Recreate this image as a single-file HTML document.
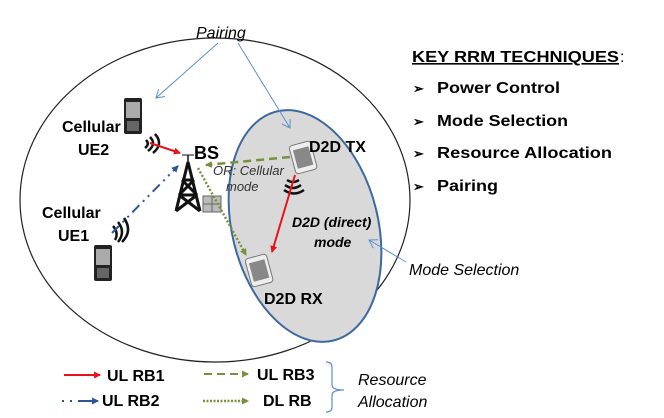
<!DOCTYPE html>
<html><head><meta charset="utf-8"><style>
html,body{margin:0;padding:0;background:#fff}
svg{display:block}
text{font-family:"Liberation Sans",Arial,sans-serif}
.b{font-weight:bold}
.i{font-style:italic}
</style></head><body>
<svg width="664" height="418" viewBox="0 0 664 418" xmlns="http://www.w3.org/2000/svg">
<defs>
<marker id="ar" markerWidth="8" markerHeight="8" refX="6" refY="4" orient="auto" markerUnits="userSpaceOnUse"><path d="M0,0.5 L7,4 L0,7.5z" fill="#e8121a"/></marker>
<marker id="ab" markerWidth="8" markerHeight="8" refX="6" refY="4" orient="auto" markerUnits="userSpaceOnUse"><path d="M0,0.5 L7,4 L0,7.5z" fill="#2f5596"/></marker>
<marker id="ag" markerWidth="8" markerHeight="8" refX="6" refY="4" orient="auto" markerUnits="userSpaceOnUse"><path d="M0,0.5 L7,4 L0,7.5z" fill="#76923c"/></marker>
<marker id="al" markerWidth="10" markerHeight="10" refX="8" refY="5" orient="auto" markerUnits="userSpaceOnUse"><path d="M0,0 L8,5 L0,10" fill="none" stroke="#5b8fd0" stroke-width="1"/></marker>
</defs>
<ellipse cx="215" cy="200" rx="195" ry="162" fill="none" stroke="#222" stroke-width="1.2"/>
<ellipse cx="305" cy="226" rx="73" ry="118" transform="rotate(-14 305 226)" fill="#d9d9d9" stroke="#3d68a0" stroke-width="2"/>
<text x="196" y="38" class="i" font-size="16">Pairing</text>
<line x1="218" y1="43" x2="156" y2="98" stroke="#5b8fd0" stroke-width="1" marker-end="url(#al)"/>
<line x1="238" y1="43" x2="290" y2="128" stroke="#5b8fd0" stroke-width="1" marker-end="url(#al)"/>
<line x1="406" y1="262" x2="369" y2="240" stroke="#5b8fd0" stroke-width="1" marker-end="url(#al)"/>
<text x="409" y="275" class="i" font-size="16">Mode Selection</text>
<text x="412" y="62" class="b" font-size="16" text-decoration="underline" textLength="207" lengthAdjust="spacingAndGlyphs">KEY RRM TECHNIQUES</text><text x="620" y="62" font-size="16">:</text>
<g font-size="16" class="b">
<text x="413" y="93" font-size="13">➢</text><text x="437" y="93" textLength="123" lengthAdjust="spacingAndGlyphs">Power Control</text>
<text x="413" y="126" font-size="13">➢</text><text x="437" y="126" textLength="131" lengthAdjust="spacingAndGlyphs">Mode Selection</text>
<text x="413" y="158" font-size="13">➢</text><text x="437" y="158" textLength="175" lengthAdjust="spacingAndGlyphs">Resource Allocation</text>
<text x="413" y="191" font-size="13">➢</text><text x="437" y="191" textLength="61" lengthAdjust="spacingAndGlyphs">Pairing</text>
</g>
<g>
<rect x="124" y="98" width="18" height="36" rx="2" fill="#222"/><rect x="126" y="102" width="14" height="16" fill="#aaa"/><rect x="127" y="121" width="12" height="10" fill="#666"/>
<rect x="94" y="245" width="18" height="36" rx="2" fill="#222"/><rect x="96" y="249" width="14" height="16" fill="#aaa"/><rect x="97" y="268" width="12" height="10" fill="#666"/>
<g transform="rotate(-15 303 157)"><rect x="292" y="143" width="22" height="29" rx="3" fill="#eee" stroke="#777"/><rect x="295" y="148" width="16" height="19" fill="#888"/></g>
<g transform="rotate(-15 259 270)"><rect x="248" y="256" width="22" height="29" rx="3" fill="#eee" stroke="#777"/><rect x="251" y="261" width="16" height="19" fill="#888"/></g>
</g>
<g fill="none" stroke="#111" stroke-width="2.5">
<path d="M146,140 q4,4 -1,8"/><path d="M150,137 q7,7 -2,14"/><path d="M155,134 q9,10 -2,19"/>
<path d="M113,226 q6,7 2,14"/><path d="M118,222 q8,10 0,20"/><path d="M124,218 q9,13 -2,24"/>
<path d="M287,180 q6,4 12,0"/><path d="M285,185 q8,6 16,0"/><path d="M284,190 q10,7 20,0"/>
</g>
<g stroke="#111" stroke-width="3" fill="none">
<path d="M188,162 L176,211 M188,162 L200,211 M182,180 L194,180 M179,195 L197,195 M182,180 L197,195 M194,180 L179,195 M179,195 L200,211 M197,195 L176,211"/>
<line x1="182" y1="155" x2="194" y2="155" stroke-width="1"/><line x1="188" y1="155" x2="188" y2="162" stroke-width="1.5"/>
</g>
<rect x="203" y="196" width="18" height="16" fill="#bbb" stroke="#666"/>
<line x1="203" y1="204" x2="221" y2="204" stroke="#666"/><line x1="212" y1="196" x2="212" y2="212" stroke="#666"/>
<line x1="150" y1="143" x2="180" y2="153" stroke="#e8121a" stroke-width="2" marker-end="url(#ar)"/>
<line x1="112" y1="233" x2="178" y2="166" stroke="#2f5596" stroke-width="2" stroke-dasharray="10,5,2,5,2,5" marker-end="url(#ab)"/>
<line x1="290" y1="157" x2="206" y2="165" stroke="#76923c" stroke-width="2.5" stroke-dasharray="8,5" marker-end="url(#ag)"/>
<line x1="198" y1="168" x2="246" y2="255" stroke="#76923c" stroke-width="2.5" stroke-dasharray="2,2" marker-end="url(#ag)"/>
<line x1="295" y1="175" x2="272" y2="252" stroke="#e8121a" stroke-width="2" marker-end="url(#ar)"/>
<g class="b" font-size="16">
<text x="62" y="132">Cellular</text><text x="78" y="155">UE2</text>
<text x="42" y="218">Cellular</text><text x="58" y="241">UE1</text>
<text x="194" y="159" font-size="18">BS</text>
<text x="309" y="152">D2D TX</text>
<text x="264" y="304">D2D RX</text>
</g>
<text x="213" y="175" class="i" font-size="13" fill="#333">OR: Cellular</text>
<text x="226" y="191" class="i" font-size="13" fill="#333">mode</text>
<text x="292" y="227" class="b i" font-size="14">D2D (direct)</text>
<text x="314" y="247" class="b i" font-size="14">mode</text>
<line x1="64" y1="375" x2="100" y2="375" stroke="#e8121a" stroke-width="2" marker-end="url(#ar)"/>
<text x="107" y="381" class="b" font-size="16">UL RB1</text>
<line x1="62" y1="401" x2="98" y2="401" stroke="#2f5596" stroke-width="2" stroke-dasharray="2,6,2,6,18,0" marker-end="url(#ab)"/>
<text x="102" y="406" class="b" font-size="16">UL RB2</text>
<line x1="204" y1="374" x2="248" y2="374" stroke="#76923c" stroke-width="2" stroke-dasharray="8,5" marker-end="url(#ag)"/>
<text x="257" y="380" class="b" font-size="16">UL RB3</text>
<line x1="203" y1="401" x2="248" y2="401" stroke="#76923c" stroke-width="2.5" stroke-dasharray="2,1.5" marker-end="url(#ag)"/>
<text x="263" y="406" class="b" font-size="16">DL RB</text>
<path d="M326,362 q6,0 6,5 v18 q0,5 12,5 q-12,0 -12,5 v12 q0,5 -6,5" fill="none" stroke="#5b8fd0" stroke-width="1.2"/>
<text x="358" y="385" class="i" font-size="16">Resource</text>
<text x="358" y="407" class="i" font-size="16">Allocation</text>
</svg>
</body></html>
